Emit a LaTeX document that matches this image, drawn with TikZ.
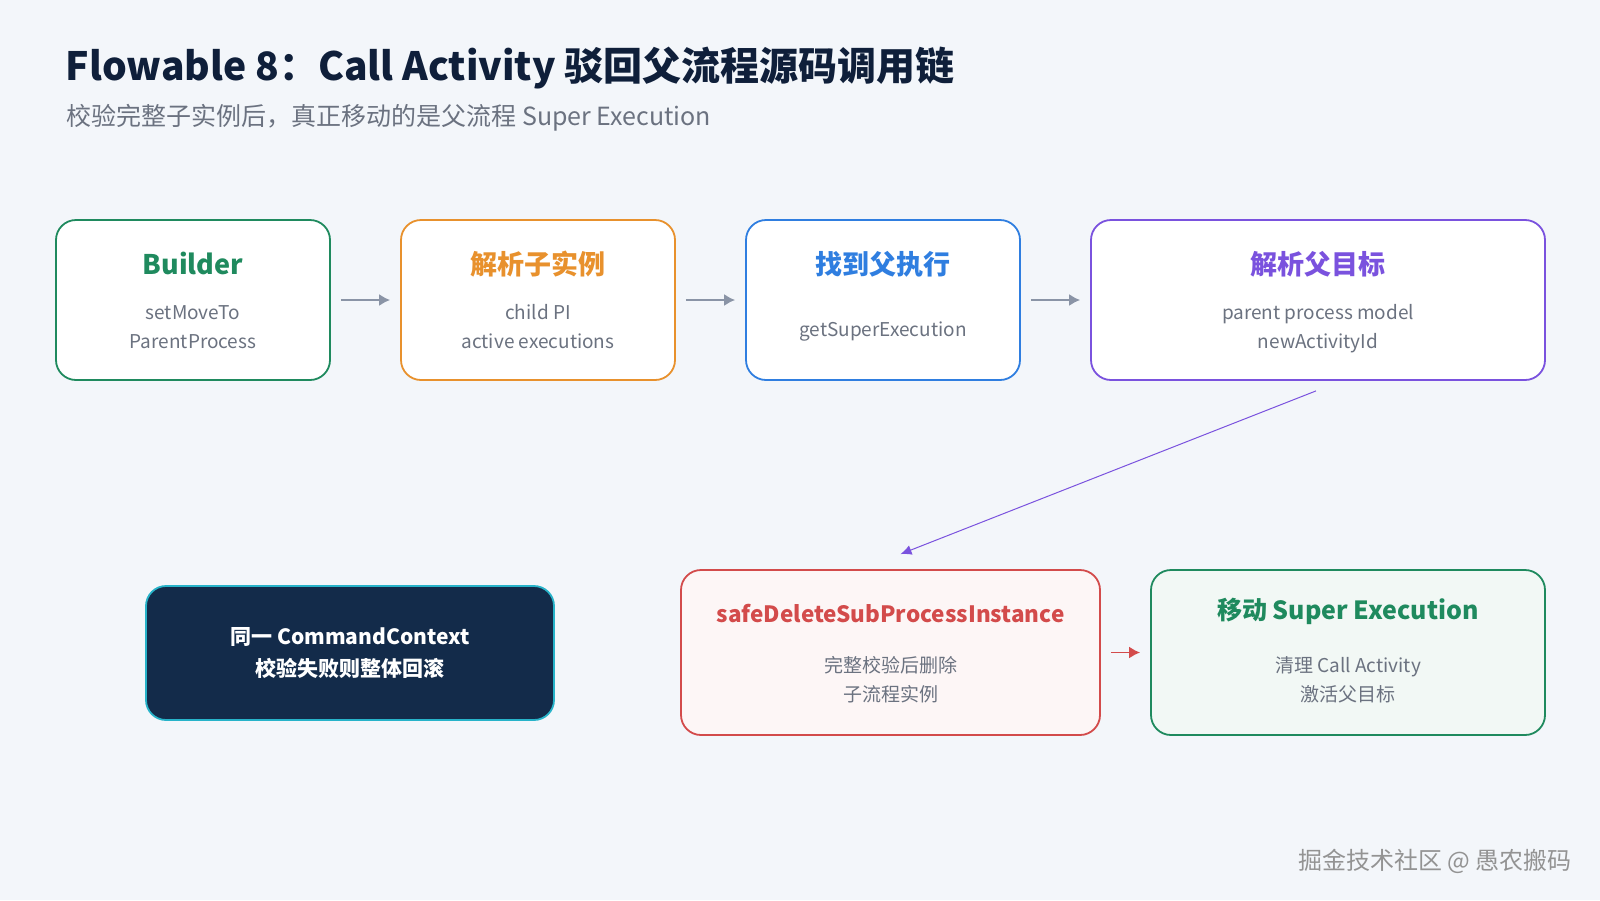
\documentclass[tikz,border=0pt]{standalone}
\usepackage{fontspec}
\setmainfont{Noto Sans CJK SC}
\usetikzlibrary{arrows.meta,positioning,calc}
\definecolor{bgcol}{HTML}{F3F6FA}
\definecolor{headcol}{HTML}{0F1F3A}
\definecolor{subcol}{HTML}{6B7280}
\definecolor{textcol}{HTML}{6B7280}
\definecolor{arrowcol}{HTML}{8A94A6}
\definecolor{greencol}{HTML}{1F8A5E}
\definecolor{orangecol}{HTML}{E8912D}
\definecolor{bluecol}{HTML}{2F7EE0}
\definecolor{purplecol}{HTML}{7A52DE}
\definecolor{redcol}{HTML}{D34B4B}
\definecolor{navycol}{HTML}{132B4A}
\definecolor{cyancol}{HTML}{27B3C9}
\tikzset{x=1pt, y=-1pt, % work in pixels of the 1600x900 canvas
        card/.style={ % Sets the properties for each box
            draw,
            rounded corners=20pt,
            line width=1.8pt,
            fill=white,
            minimum height=160pt,
            inner sep=0pt},
        cardtitle/.style={anchor=base, font=\bfseries\fontsize{27}{27}\selectfont},
        cardtext/.style={anchor=base, text=textcol, font=\fontsize{19}{19}\selectfont},
        flow/.style={ % Sets the properties for each step arrow
            draw=arrowcol,
            line width=1.8pt,
            -{Latex[length=11pt,width=12pt]},
            shorten <=10pt,
            shorten >=10pt}
        }
\begin{document}
\begin{tikzpicture}
    \fill[bgcol] (0,0) rectangle (1600,900);
    \useasboundingbox (0,0) rectangle (1600,900);

    % heading
    \node[anchor=base west, text=headcol, font=\bfseries\fontsize{39}{39}\selectfont] (title) at (62,80) {Flowable 8：Call Activity 驳回父流程源码调用链};
    \node[anchor=base west, text=subcol, font=\fontsize{25}{25}\selectfont] (subtitle) at (63,125) {校验完整子实例后，真正移动的是父流程 Super Execution};

    % upper row
    \node[card, draw=greencol, minimum width=274pt] (builder) at (193,300) {};
    \node[cardtitle, text=greencol] (builder-t) at (193,274) {Builder};
    \node[cardtext] (builder-a) at (193,319) {setMoveTo};
    \node[cardtext] (builder-b) at (193,348) {ParentProcess};

    \node[card, draw=orangecol, minimum width=274pt] (child) at (538,300) {};
    \node[cardtitle, text=orangecol] (child-t) at (538,274) {解析子实例};
    \node[cardtext] (child-a) at (538,319) {child PI};
    \node[cardtext] (child-b) at (538,348) {active executions};

    \node[card, draw=bluecol, minimum width=274pt] (super) at (883,300) {};
    \node[cardtitle, text=bluecol] (super-t) at (883,274) {找到父执行};
    \node[cardtext] (super-a) at (883,336) {getSuperExecution};

    \node[card, draw=purplecol, minimum width=454pt] (target) at (1318,300) {};
    \node[cardtitle, text=purplecol] (target-t) at (1318,274) {解析父目标};
    \node[cardtext] (target-a) at (1318,319) {parent process model};
    \node[cardtext] (target-b) at (1318,348) {newActivityId};

    % lower row
    \node[card, draw=cyancol, fill=navycol, minimum width=408pt, minimum height=134pt] (context) at (350,653) {};
    \node[anchor=base, text=white, font=\bfseries\fontsize{21}{21}\selectfont] (context-a) at (350,644) {同一 CommandContext};
    \node[anchor=base, text=white, font=\bfseries\fontsize{21}{21}\selectfont] (context-b) at (350,676) {校验失败则整体回滚};

    \node[card, draw=redcol, fill=redcol!5, minimum width=419pt, minimum height=165pt] (delete) at (890.5,652.5) {};
    \node[cardtitle, text=redcol, font=\bfseries\fontsize{22.5}{22.5}\selectfont] (delete-t) at (890.5,622) {safeDeleteSubProcessInstance};
    \node[cardtext] (delete-a) at (890.5,672) {完整校验后删除};
    \node[cardtext] (delete-b) at (890.5,701) {子流程实例};

    \node[card, draw=greencol, fill=greencol!6, minimum width=394pt, minimum height=165pt] (move) at (1348,652.5) {};
    \node[cardtitle, text=greencol, font=\bfseries\fontsize{25}{25}\selectfont] (move-t) at (1348,619) {移动 Super Execution};
    \node[cardtext] (move-a) at (1348,672) {清理 Call Activity};
    \node[cardtext] (move-b) at (1348,701) {激活父目标};

    % connectors
    \draw[flow] (builder) -- (child);
    \draw[flow] (child) -- (super);
    \draw[flow] (super) -- (target);
    \draw[draw=purplecol, line width=1pt, -{Latex[length=11pt,width=10pt]}] ($(target.south)+(-2,10)$) -- ($(delete.north)+(10,-15)$);
    \draw[flow, draw=redcol] (delete) -- (move);

    % watermark
    \node[anchor=base east, text=gray!85, font=\fontsize{24}{24}\selectfont] (mark) at (1575,869) {掘金技术社区 @ 愚农搬码};
\end{tikzpicture}
\end{document}
